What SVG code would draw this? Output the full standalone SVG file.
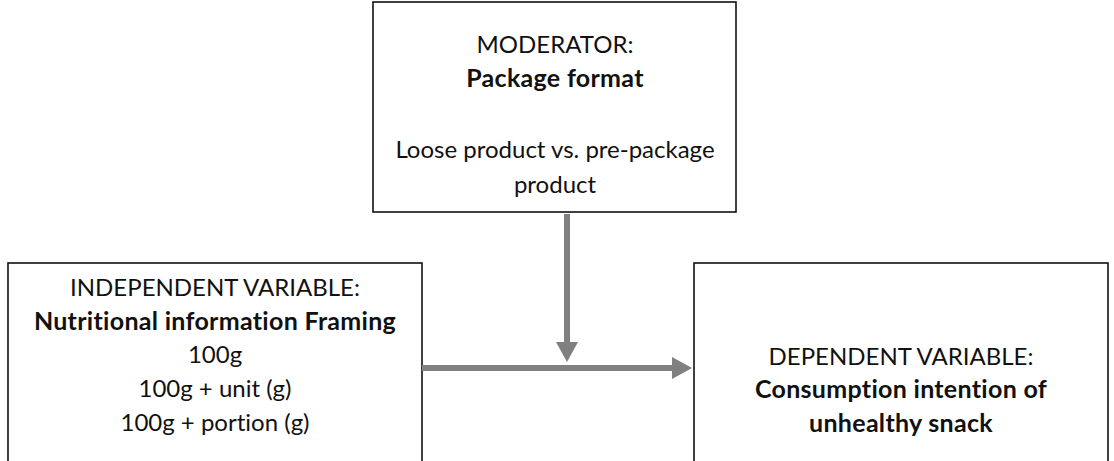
<svg xmlns="http://www.w3.org/2000/svg" width="1114" height="461" viewBox="0 0 1114 461">
  <style>
    .box { fill: #ffffff; stroke: #111111; stroke-width: 1.6; }
    .t { font-family: Lato, "Open Sans", "Liberation Sans", sans-serif; font-size: 24px; fill: #111111; text-anchor: middle; font-variant-ligatures: none; }
    .b { font-weight: bold; font-size: 25px; letter-spacing: 0.3px; }
    .link { stroke: #808080; stroke-width: 6; fill: none; }
    .head { fill: #808080; }
  </style>

  <!-- moderator node -->
  <g id="moderator">
    <rect class="box" x="373" y="2" width="363" height="210"/>
    <text class="t" x="555" y="53">MODERATOR:</text>
    <text class="t b" x="555" y="87">Package format</text>
    <text class="t" x="555" y="158">Loose product vs. pre-package</text>
    <text class="t" x="555" y="193">product</text>
  </g>

  <!-- independent variable node -->
  <g id="independent">
    <rect class="box" x="8" y="263" width="414" height="220"/>
    <text class="t" x="215" y="296">INDEPENDENT VARIABLE:</text>
    <text class="t b" x="215" y="330">Nutritional information Framing</text>
    <text class="t" x="215" y="363">100g</text>
    <text class="t" x="215" y="397">100g + unit (g)</text>
    <text class="t" x="215" y="431">100g + portion (g)</text>
  </g>

  <!-- dependent variable node -->
  <g id="dependent">
    <rect class="box" x="694" y="263" width="414" height="220"/>
    <text class="t" x="901" y="365">DEPENDENT VARIABLE:</text>
    <text class="t b" x="901" y="398">Consumption intention of</text>
    <text class="t b" x="901" y="432">unhealthy snack</text>
  </g>

  <!-- connectors -->
  <g id="connectors">
    <line class="link" x1="567" y1="214" x2="567" y2="345"/>
    <polygon class="head" points="556,342 578,342 567,362"/>
    <line class="link" x1="422" y1="368" x2="675" y2="368"/>
    <polygon class="head" points="672,357 672,379 692,368"/>
  </g>
</svg>
